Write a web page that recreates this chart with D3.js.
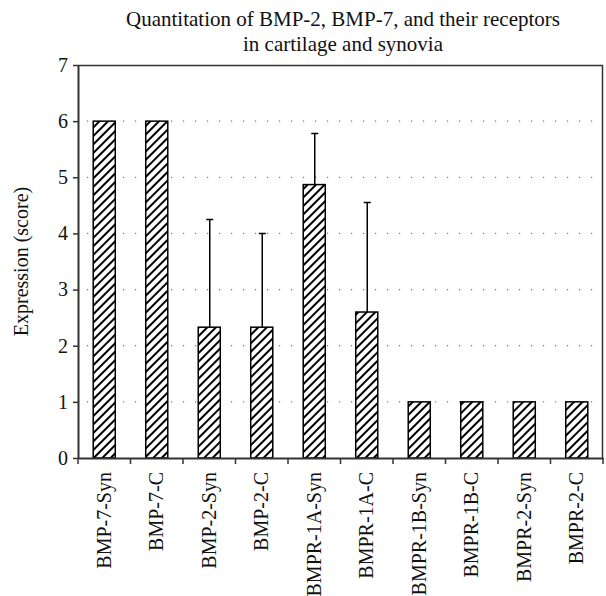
<!DOCTYPE html>
<html>
<head>
<meta charset="utf-8">
<script src="https://cdn.jsdelivr.net/npm/d3@7"></script>
<style>
  body { margin: 0; background: #fff; }
</style>
</head>
<body>
<svg id="chart"></svg>
<script>
'use strict';

const WIDTH = 606;
const HEIGHT = 596;
const FONT = "'Liberation Serif', 'DejaVu Serif', serif";

const categories = ['BMP-7-Syn', 'BMP-7-C', 'BMP-2-Syn', 'BMP-2-C', 'BMPR-1A-Syn',
    'BMPR-1A-C', 'BMPR-1B-Syn', 'BMPR-1B-C', 'BMPR-2-Syn', 'BMPR-2-C'];
const values = [6, 6, 2.33, 2.33, 4.87, 2.6, 1, 1, 1, 1];
// upper error (sd) added on top of the bar, 0 = none
const errors = [0, 0, 1.92, 1.67, 0.91, 1.95, 0, 0, 0, 0];
const yTicks = [0, 1, 2, 3, 4, 5, 6, 7];
const titleLines = ['Quantitation of BMP-2, BMP-7, and their receptors', 'in cartilage and synovia'];

const margin = {top: 65, right: 3, bottom: 138, left: 78};
const w = WIDTH - margin.left - margin.right;
const h = HEIGHT - margin.top - margin.bottom;

const svg = d3.select('#chart').attr('width', WIDTH).attr('height', HEIGHT)
    .attr('font-family', FONT);

// hatch pattern
const pat = svg.append('defs').append('pattern')
    .attr('id', 'hatch')
    .attr('patternUnits', 'userSpaceOnUse')
    .attr('width', 6).attr('height', 6)
    .attr('patternTransform', 'rotate(45)');
pat.append('rect').attr('width', 6).attr('height', 6).attr('fill', '#fff');
pat.append('line')
    .attr('x1', 0).attr('y1', 0).attr('x2', 0).attr('y2', 6)
    .attr('stroke', '#000').attr('stroke-width', 4);

const g = svg.append('g').attr('transform', 'translate(' + margin.left + ',' + margin.top + ')');

const x = d3.scaleBand().domain(categories).range([0, w]).paddingInner(0.58).paddingOuter(0.29);
const y = d3.scaleLinear().domain([0, 7]).range([h, 0]);

// dotted gridlines
g.selectAll('.grid')
    .data(yTicks.filter(function(d) { return d > 0 && d < 7; }))
    .enter()
    .append('line')
    .attr('x1', 0).attr('x2', w)
    .attr('y1', function(d) { return y(d); })
    .attr('y2', function(d) { return y(d); })
    .attr('stroke', '#777')
    .attr('stroke-width', 1.2)
    .attr('stroke-dasharray', '1.2,10.8')
    .attr('stroke-dashoffset', -9);

// frame (top + right)
g.append('path')
    .attr('d', 'M0,0.5H' + (w - 0.5) + 'V' + h)
    .attr('fill', 'none').attr('stroke', '#333').attr('stroke-width', 1.5);

// error bars
const errData = categories.map(function(c, i) { return {c: c, v: values[i], e: errors[i]}; })
    .filter(function(d) { return d.e > 0; });
g.selectAll('.err')
    .data(errData)
    .enter()
    .append('path')
    .attr('d', function(d) {
        let cx = x(d.c) + x.bandwidth() / 2 + 0.5;
        return 'M' + cx + ',' + y(d.v) + 'V' + y(d.v + d.e) +
            'M' + (cx - 3.5) + ',' + y(d.v + d.e) + 'H' + (cx + 3.5);
    })
    .attr('stroke', '#000').attr('stroke-width', 1.5).attr('fill', 'none');

// bars
g.selectAll('.bar')
    .data(values)
    .enter()
    .append('rect')
    .attr('x', function(d, i) { return x(categories[i]); })
    .attr('y', function(d) { return y(d); })
    .attr('width', x.bandwidth())
    .attr('height', function(d) { return h - y(d); })
    .attr('fill', 'url(#hatch)')
    .attr('stroke', '#000')
    .attr('stroke-width', 1.5);

// y axis
const yAxis = g.append('g')
    .call(d3.axisLeft(y).tickValues(yTicks).tickFormat(d3.format('d')).tickSize(5).tickSizeOuter(0))
    .attr('font-family', FONT).attr('font-size', 20);
yAxis.select('.domain').attr('stroke', '#333').attr('stroke-width', 2);
yAxis.selectAll('.tick line').attr('stroke', '#333').attr('stroke-width', 1.5);
yAxis.selectAll('.tick text').attr('fill', '#111').attr('x', -10);

// x axis
const xAxis = g.append('g').attr('transform', 'translate(0,' + h + ')')
    .call(d3.axisBottom(x).tickSize(0).tickSizeOuter(0))
    .attr('font-family', FONT).attr('font-size', 20);
xAxis.select('.domain').attr('stroke', '#333').attr('stroke-width', 2);
xAxis.selectAll('.tick text')
    .attr('fill', '#111')
    .attr('text-anchor', 'end')
    .attr('transform', 'rotate(-90)')
    .attr('x', -14).attr('y', 0).attr('dy', '0.32em');

// ticks between categories
g.selectAll('.xtick')
    .data(d3.range(categories.length + 1))
    .enter()
    .append('line')
    .attr('x1', function(d) { return d * (w / categories.length); })
    .attr('x2', function(d) { return d * (w / categories.length); })
    .attr('y1', h).attr('y2', h + 6)
    .attr('stroke', '#333').attr('stroke-width', 1.5);

// y label
svg.append('text')
    .attr('transform', 'translate(28,' + (margin.top + h / 2) + ') rotate(-90)')
    .attr('text-anchor', 'middle')
    .attr('font-size', 20)
    .attr('fill', '#111')
    .text('Expression (score)');

// title
svg.selectAll('.title')
    .data(titleLines)
    .enter()
    .append('text')
    .attr('x', 343)
    .attr('y', function(d, i) { return 25.5 + i * 25; })
    .attr('text-anchor', 'middle')
    .attr('font-size', 21)
    .attr('fill', '#111')
    .text(function(d) { return d; });
</script>
</body>
</html>
